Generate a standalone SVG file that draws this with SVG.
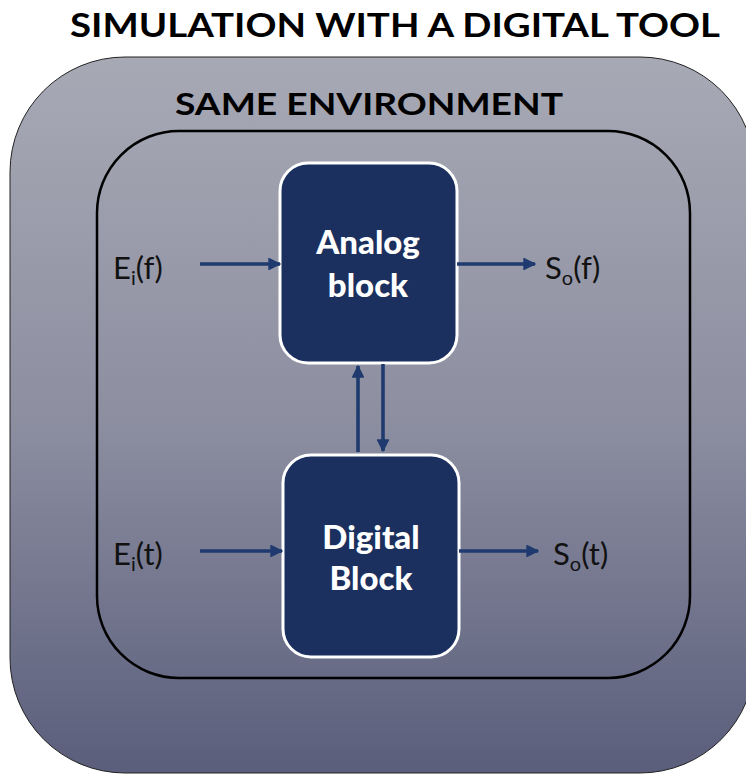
<svg xmlns="http://www.w3.org/2000/svg" width="746" height="775" viewBox="0 0 746 775">
  <defs>
    <linearGradient id="bg" x1="0" y1="0" x2="0" y2="1">
      <stop offset="0" stop-color="#a7a9b5"/>
      <stop offset="0.5" stop-color="#8d8fa1"/>
      <stop offset="1" stop-color="#5a5e7b"/>
    </linearGradient>
    <marker id="ah" viewBox="0 0 10 10" refX="9" refY="5" markerWidth="3.6" markerHeight="3.6" orient="auto" markerUnits="strokeWidth">
      <path d="M0,0 L10,5 L0,10 z" fill="#1f3a6e"/>
    </marker>
    <style>
      .title { font-family: Lato, "Open Sans", sans-serif; font-weight: 700; fill: #000; }
      .block rect { fill: #1b305e; stroke: #ffffff; stroke-width: 3; }
      .block text { font-family: Lato, "Open Sans", sans-serif; font-weight: 900; font-size: 33px; fill: #ffffff; text-anchor: middle; }
      .lbl { font-family: Lato, "Open Sans", sans-serif; font-size: 31px; fill: #111; }
      .sub { font-size: 20px; }
      .conn line { stroke: #1f3a6e; stroke-width: 3.6; marker-end: url(#ah); }
    </style>
  </defs>

  <text class="title" x="70" y="37" font-size="33" textLength="650" lengthAdjust="spacingAndGlyphs">SIMULATION WITH A DIGITAL TOOL</text>

  <!-- simulation tool frame -->
  <rect x="10" y="57" width="745" height="716" rx="115" ry="115" fill="url(#bg)" stroke="#222" stroke-width="1"/>

  <text class="title" x="175" y="115" font-size="30" textLength="388" lengthAdjust="spacingAndGlyphs">SAME ENVIRONMENT</text>

  <!-- shared environment -->
  <rect x="97" y="131" width="593" height="547" rx="82" ry="82" fill="none" stroke="#000" stroke-width="2.5"/>

  <g id="analog" class="block">
    <rect x="280" y="163" width="177" height="200" rx="28" ry="28"/>
    <text x="368" y="254">Analog</text>
    <text x="368" y="297">block</text>
  </g>

  <g id="digital" class="block">
    <rect x="283" y="455" width="176" height="202" rx="28" ry="28"/>
    <text x="371" y="549">Digital</text>
    <text x="371" y="590">Block</text>
  </g>

  <g id="labels">
    <text class="lbl" x="113" y="279">E<tspan class="sub" dy="6">i</tspan><tspan dy="-6">(f)</tspan></text>
    <text class="lbl" x="545" y="279">S<tspan class="sub" dy="6">o</tspan><tspan dy="-6">(f)</tspan></text>
    <text class="lbl" x="113" y="565">E<tspan class="sub" dy="6">i</tspan><tspan dy="-6">(t)</tspan></text>
    <text class="lbl" x="553" y="565">S<tspan class="sub" dy="6">o</tspan><tspan dy="-6">(t)</tspan></text>
  </g>

  <g id="connectors" class="conn">
    <line x1="200" y1="264" x2="280" y2="264"/>
    <line x1="457" y1="264" x2="535" y2="264"/>
    <line x1="200" y1="551" x2="282" y2="551"/>
    <line x1="459" y1="551" x2="538" y2="551"/>
    <line x1="358" y1="452" x2="358" y2="366"/>
    <line x1="383" y1="364" x2="383" y2="451"/>
  </g>
</svg>
